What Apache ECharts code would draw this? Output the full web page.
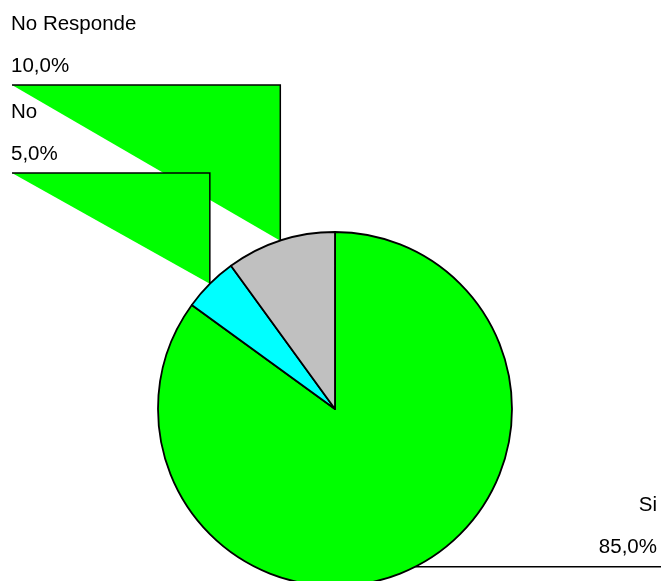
<!DOCTYPE html>
<html>
<head>
<meta charset="utf-8">
<script src="https://cdn.jsdelivr.net/npm/echarts@6/dist/echarts.min.js"></script>
<style>
html,body{margin:0;padding:0;background:#fff;}
#chart{width:661px;height:581px;}
</style>
</head>
<body>
<div id="chart"></div>
<script>
// ---- data ----
const categories = ['Si', 'No', 'No Responde'];
const values = [85, 5, 10];
const colors = ['#00FF00', '#00FFFF', '#C0C0C0'];

// ---- label placement (layout only) ----
const labelSide = ['right', 'left', 'left'];
const labelLineY = [null, 173, 85]; // null: horizontal at the slice's edge point
const leftEndX = 12, rightEndX = 661;
const FONT = '"Liberation Sans", Arial, sans-serif';

const chart = echarts.init(document.getElementById('chart'), null, {renderer: 'canvas'});

const total = values.reduce((a, b) => a + b, 0);
function pct(v) { return (v / total * 100).toFixed(1).replace('.', ',') + '%'; }

chart.setOption({
  animation: false,
  backgroundColor: '#ffffff',
  series: [{
    type: 'pie',
    center: [335, 409],
    radius: 177,
    startAngle: 90,
    clockwise: true,
    silent: true,
    label: {show: false},
    labelLine: {show: false},
    emphasis: {disabled: true},
    itemStyle: {borderColor: '#000', borderWidth: 1.8},
    z: 3,
    data: categories.map((c, i) => ({name: c, value: values[i], itemStyle: {color: colors[i]}}))
  }]
});

// Build the label guides from the pie's own layout
const elements = [];
let layouts = null;
try {
  const d = chart.getModel().getSeriesByIndex(0).getData();
  layouts = categories.map((_, i) => d.getItemLayout(i));
} catch (e) { layouts = null; }

categories.forEach((name, i) => {
  let px, py;
  const L = layouts && layouts[i];
  if (L && isFinite(L.startAngle)) {
    const mid = (L.startAngle + L.endAngle) / 2;
    px = L.cx + L.r * Math.cos(mid);
    py = L.cy + L.r * Math.sin(mid);
  } else {
    let acc = 0; for (let k = 0; k < i; k++) acc += values[k];
    const mid = -Math.PI / 2 + (acc + values[i] / 2) / total * 2 * Math.PI;
    px = 335 + 177 * Math.cos(mid); py = 409 + 177 * Math.sin(mid);
  }
  const ly = labelLineY[i] == null ? py : labelLineY[i];
  const endX = labelSide[i] === 'left' ? leftEndX : rightEndX;
  elements.push({
    type: 'polygon', z: 1, silent: true,
    shape: {points: [[endX, ly], [px, ly], [px, py]]},
    style: {fill: '#00FF00', stroke: null}
  });
  elements.push({
    type: 'polyline', z: 2, silent: true,
    shape: {points: [[endX, ly], [px, ly], [px, py]]},
    style: {stroke: '#000', lineWidth: 1.5, fill: null}
  });
  const tx = labelSide[i] === 'left' ? 11 : 657;
  const align = labelSide[i] === 'left' ? 'left' : 'right';
  elements.push({
    type: 'text', z: 4, silent: true, x: tx, y: ly - 61,
    style: {text: name, font: '20.5px ' + FONT, fill: '#000', textAlign: align, textVerticalAlign: 'middle'}
  });
  elements.push({
    type: 'text', z: 4, silent: true, x: tx, y: ly - 19,
    style: {text: pct(values[i]), font: '20.5px ' + FONT, fill: '#000', textAlign: align, textVerticalAlign: 'middle'}
  });
});

chart.setOption({graphic: {elements: elements}});
</script>
</body>
</html>
